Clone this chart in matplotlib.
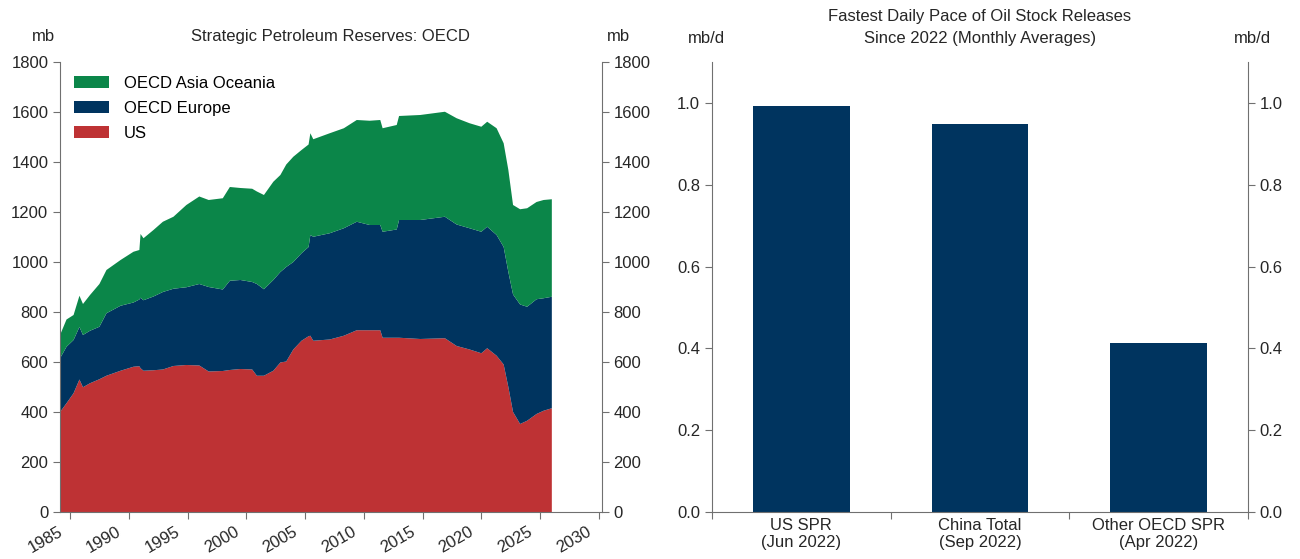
import matplotlib
matplotlib.use("Agg")
import matplotlib.pyplot as plt
import matplotlib.transforms as mtransforms
import numpy as np

plt.rcParams['font.family'] = ['Liberation Sans', 'DejaVu Sans']
plt.rcParams['font.size'] = 12

# left panel: stocks in mb (decimal years)
years = [1984.15, 1984.7, 1985.3, 1985.8, 1986.1, 1986.7, 1987.5, 1988.1, 1989.3,
         1990.4, 1990.9, 1991.0, 1991.25, 1992.1, 1992.9, 1993.8, 1994.9, 1996.0,
         1996.8, 1998.0, 1998.6, 1999.5, 2000.5, 2000.9, 2001.5, 2002.3, 2002.9,
         2003.4, 2004.0, 2004.7, 2005.3, 2005.45, 2005.7, 2007.1, 2008.3, 2009.4,
         2010.5, 2011.4, 2011.6, 2012.8, 2013.0, 2014.8, 2016.9, 2017.9, 2019.0,
         2020.0, 2020.5, 2021.3, 2021.9, 2022.3, 2022.7, 2023.3, 2023.9, 2024.7,
         2025.3, 2026.0]
us = [400, 435, 475, 530, 499, 515, 531, 545, 565,
      581, 583, 575, 565, 567, 570, 584, 588, 586,
      562, 564, 568, 572, 570, 545, 545, 565, 598,
      602, 650, 685, 703, 705, 685, 690, 705, 727,
      727, 727, 697, 697, 697, 692, 695, 664, 650,
      635, 655, 625, 590, 500, 400, 352, 365, 392,
      405, 415]
europe = [215, 226, 213, 210, 209, 210, 210, 250, 260,
          257, 267, 282, 282, 295, 310, 309, 311, 326,
          338, 326, 357, 356, 350, 367, 346, 363, 362,
          378, 350, 350, 357, 403, 416, 425, 430, 434,
          421, 421, 424, 433, 471, 476, 486, 486, 485,
          486, 486, 483, 470, 460, 470, 478, 456, 459,
          450, 446]
asia = [93, 109, 100, 125, 124, 143, 171, 173, 183,
        203, 198, 255, 248, 266, 281, 288, 329, 350,
        348, 365, 375, 368, 373, 370, 377, 393, 388,
        410, 421, 413, 410, 407, 390, 400, 400, 407,
        417, 420, 414, 418, 416, 420, 420, 425, 420,
        420, 420, 427, 415, 408, 358, 381, 394, 389,
        393, 390]

# right panel: mb/d
categories = ["US SPR\n(Jun 2022)", "China Total\n(Sep 2022)", "Other OECD SPR\n(Apr 2022)"]
pace = [0.993, 0.949, 0.412]

green = "#0B8649"
navy = "#00345F"
red = "#BE3234"
spine_col = "#707070"
text_col = "#262626"

fig = plt.figure(figsize=(13, 5.59), dpi=100)
ax1 = fig.add_axes([0.0462, 0.0841, 0.4167, 0.805])
ax2 = fig.add_axes([0.5477, 0.0841, 0.4123, 0.805])

for ax in (ax1, ax2):
    ax.spines['top'].set_visible(False)
    for s in ('left', 'right', 'bottom'):
        ax.spines[s].set_color(spine_col)
    ax.tick_params(axis='both', which='both', direction='out', length=5,
                   color=spine_col, labelcolor=text_col)
    ax.tick_params(axis='y', right=True, labelright=True)

# left chart
ax1.stackplot(years, us, europe, asia, colors=[red, navy, green],
              labels=["US", "OECD Europe", "OECD Asia Oceania"], linewidth=0)
ax1.set_xlim(1984.15, 2030.25)
ax1.set_ylim(0, 1800)
ax1.set_yticks(np.arange(0, 1801, 200))
ax1.set_xticks(np.arange(1985, 2031, 5))
shift = mtransforms.ScaledTranslation(-5 / 100, 0, fig.dpi_scale_trans)
for lbl in ax1.get_xticklabels():
    lbl.set_rotation(30)
    lbl.set_ha('right')
    lbl.set_transform(lbl.get_transform() + shift)
h, l = ax1.get_legend_handles_labels()
ax1.legend(h[::-1], l[::-1], loc='upper left', frameon=False, fontsize=12,
           handlelength=2.1, handleheight=0.72, handletextpad=0.87,
           labelspacing=0.6, borderaxespad=0.5, borderpad=0.35)
ax1.text(0.5, 1.056, "Strategic Petroleum Reserves: OECD", transform=ax1.transAxes,
         ha='center', va='center', color=text_col)
ax1.text(-0.031, 1.056, "mb", transform=ax1.transAxes, ha='center', va='center', color=text_col)
ax1.text(1.030, 1.056, "mb", transform=ax1.transAxes, ha='center', va='center', color=text_col)

# right chart
xpos = np.arange(len(categories))
ax2.bar(xpos, pace, width=0.54, color=navy)
ax2.set_xlim(-0.5, 2.5)
ax2.set_ylim(0, 1.1)
ax2.set_yticks(np.arange(0, 1.01, 0.2))
ax2.set_yticklabels([f"{v:.1f}" for v in np.arange(0, 1.01, 0.2)])
ax2.set_xticks([-0.5, 0.5, 1.5, 2.5])
ax2.set_xticklabels([])
ax2.set_xticks(xpos, minor=True)
ax2.set_xticklabels(categories, minor=True)
ax2.tick_params(axis='x', which='minor', length=0, pad=4)
ax2.text(0.5, 1.10, "Fastest Daily Pace of Oil Stock Releases", transform=ax2.transAxes,
         ha='center', va='center', color=text_col)
ax2.text(0.5, 1.053, "Since 2022 (Monthly Averages)", transform=ax2.transAxes,
         ha='center', va='center', color=text_col)
ax2.text(-0.011, 1.053, "mb/d", transform=ax2.transAxes, ha='center', va='center', color=text_col)
ax2.text(1.009, 1.053, "mb/d", transform=ax2.transAxes, ha='center', va='center', color=text_col)

fig.savefig("out.png", dpi=100)
